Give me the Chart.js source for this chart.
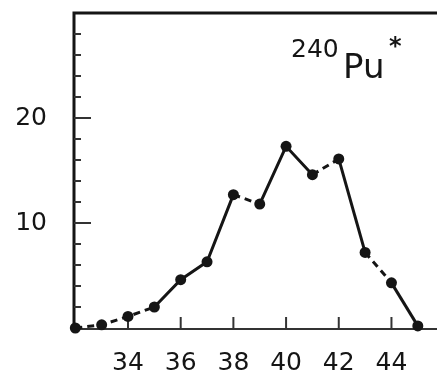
<!DOCTYPE html>
<html>
<head>
<meta charset="utf-8">
<script src="https://cdn.jsdelivr.net/npm/chart.js@4"></script>
<style>
  html, body { margin: 0; padding: 0; background: #fff; overflow: hidden; }
  #wrap { width: 437px; height: 374px; }
</style>
</head>
<body>
<div id="wrap"><canvas id="yieldChart"></canvas></div>
<script>
// fragment mass number vs. yield
const massNumbers = [32, 33, 34, 35, 36, 37, 38, 39, 40, 41, 42, 43, 44, 45];
const yields = [0, 0.3, 1.1, 2.0, 4.6, 6.3, 12.7, 11.8, 17.3, 14.6, 16.1, 7.2, 4.3, 0.2];
const xTickLabels = [34, 36, 38, 40, 42, 44];
const yTickLabels = [10, 20];

// segments drawn broken
const dashedSegments = [0, 1, 2, 6, 9, 11];

const ink = "#151515";
const tickFont = { family: "DejaVu Sans", size: 25 };

const frame = {
  id: "frame",
  beforeDatasetsDraw(chart) {
    const { ctx, chartArea: a, scales } = chart;
    ctx.save();
    ctx.strokeStyle = ink;
    ctx.lineWidth = 3;
    ctx.beginPath();
    ctx.moveTo(chart.width, a.top);
    ctx.lineTo(a.left, a.top);
    ctx.lineTo(a.left, a.bottom + 2);
    ctx.stroke();

    ctx.strokeStyle = "#333";
    ctx.lineWidth = 2;
    ctx.beginPath();
    ctx.moveTo(a.left, a.bottom + 1);
    ctx.lineTo(chart.width, a.bottom + 1);
    ctx.stroke();

    // inward ticks on the y axis
    ctx.lineWidth = 2;
    scales.y.ticks.forEach(t => {
      if (t.value <= 0 || t.value >= 30) return;
      const py = scales.y.getPixelForValue(t.value);
      const len = yTickLabels.includes(t.value) ? 17 : 7;
      ctx.beginPath();
      ctx.moveTo(a.left, py);
      ctx.lineTo(a.left + len, py);
      ctx.stroke();
    });

    // inward ticks on the x axis
    scales.x.ticks.forEach(t => {
      const px = scales.x.getPixelForValue(t.value);
      ctx.beginPath();
      ctx.moveTo(px, a.bottom + 1);
      ctx.lineTo(px, a.bottom - 11);
      ctx.stroke();
    });
    ctx.restore();
  }
};

const nucleusLabel = {
  id: "nucleusLabel",
  afterDraw(chart) {
    const { ctx } = chart;
    ctx.save();
    ctx.fillStyle = ink;
    ctx.textBaseline = "alphabetic";
    ctx.font = "25px 'DejaVu Sans'";
    ctx.fillText("240", 291, 57);
    ctx.font = "34px 'DejaVu Sans'";
    ctx.fillText("Pu", 343, 78);
    ctx.font = "bold 24px 'DejaVu Sans'";
    ctx.fillText("*", 389, 54);
    ctx.restore();
  }
};

const data = {
  datasets: [{
    data: massNumbers.map((m, i) => ({ x: m, y: yields[i] })),
    borderColor: ink,
    backgroundColor: ink,
    borderWidth: 3,
    pointRadius: 5.5,
    pointHoverRadius: 5.5,
    pointBorderWidth: 0,
    tension: 0,
    clip: false,
    segment: {
      borderDash: c => dashedSegments.includes(c.p0DataIndex) ? [7, 5] : undefined
    }
  }]
};

const config = {
  type: "line",
  data: data,
  options: {
    responsive: true,
    maintainAspectRatio: false,
    animation: false,
    layout: { padding: { top: 13, left: 0, right: 0, bottom: 0 } },
    plugins: {
      legend: { display: false },
      tooltip: { enabled: false }
    },
    scales: {
      x: {
        type: "linear",
        min: 31.95,
        max: 45.52,
        grid: { display: false, drawTicks: false },
        border: { display: false },
        afterFit: s => {
          s.height = 46;
          s.paddingLeft = 0;
          s.paddingRight = 0;
        },
        afterBuildTicks: s => {
          s.ticks = xTickLabels.map(v => ({ value: v }));
        },
        ticks: {
          padding: 20,
          color: ink,
          font: tickFont,
          maxRotation: 0,
          autoSkip: false,
          callback: v => String(v)
        }
      },
      y: {
        min: 0,
        max: 30,
        grid: { display: false, drawTicks: false },
        border: { display: false },
        afterFit: s => {
          s.width = 74;
          s.paddingTop = 0;
          s.paddingBottom = 0;
        },
        ticks: {
          stepSize: 2,
          padding: 27,
          color: ink,
          font: tickFont,
          autoSkip: false,
          callback: v => yTickLabels.includes(v) ? String(v) : ""
        }
      }
    }
  },
  plugins: [frame, nucleusLabel]
};

const yieldChart = new Chart(document.getElementById("yieldChart"), config);
</script>
</body>
</html>
